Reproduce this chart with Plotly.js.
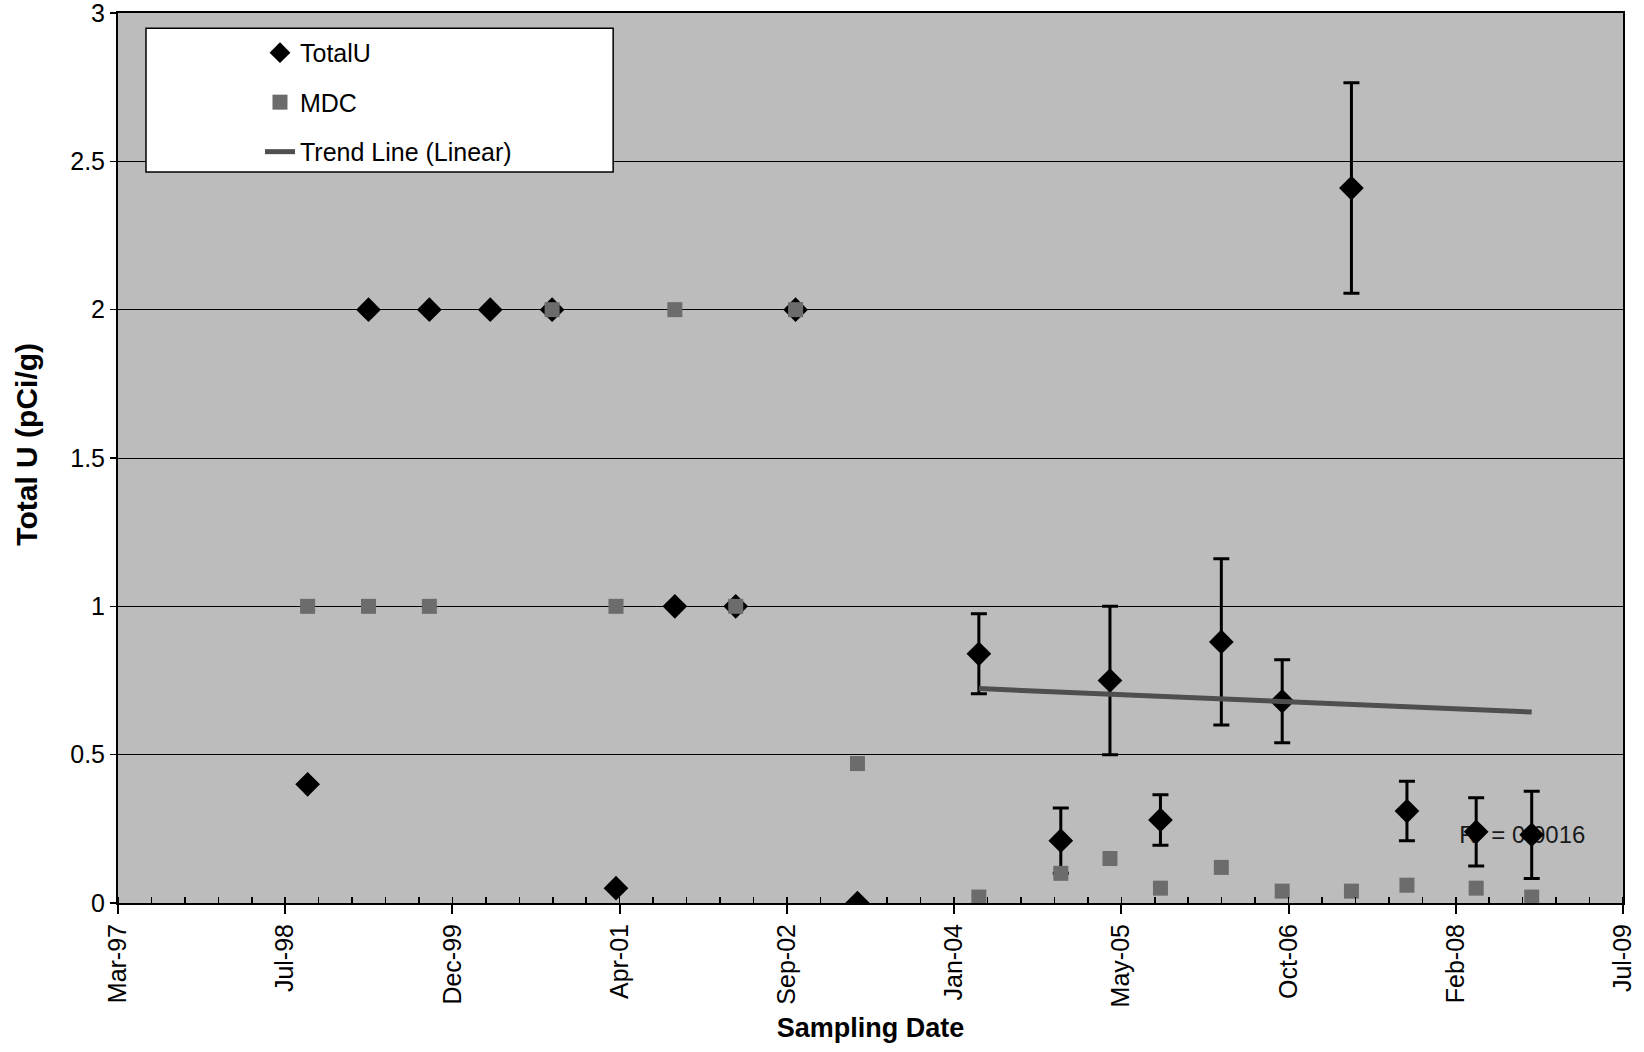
<!DOCTYPE html>
<html>
<head>
<meta charset="utf-8">
<script src="https://cdn.plot.ly/plotly-3.0.1.min.js"></script>
<style>
html, body { margin: 0; padding: 0; background: #ffffff; }
#chart { width: 1644px; height: 1052px; }
</style>
</head>
<body>
<div id="chart"></div>
<script>
// ---- Data ----
var sampleDates = [
  '1998-09-29', '1999-03-30', '1999-09-28', '2000-03-28', '2000-09-29',
  '2001-04-08', '2001-10-01', '2002-04-01', '2002-09-27', '2003-03-31',
  '2004-03-28', '2004-11-28', '2005-04-24', '2005-09-22', '2006-03-23',
  '2006-09-21', '2007-04-16', '2007-09-29', '2008-04-23', '2008-10-06'
];
var totalU = [
  0.40, 2.00, 2.00, 2.00, 2.00,
  0.05, 1.00, 1.00, 2.00, 0.00,
  0.84, 0.21, 0.75, 0.28, 0.88,
  0.68, 2.41, 0.31, 0.24, 0.23
];
var totalUErr = [
  null, null, null, null, null,
  null, null, null, null, null,
  0.135, 0.11, 0.25, 0.085, 0.28,
  0.14, 0.355, 0.10, 0.115, 0.147
];
var mdc = [
  1.00, 1.00, 1.00, null, 2.00,
  1.00, 2.00, 1.00, 2.00, 0.47,
  0.02, 0.10, 0.15, 0.05, 0.12,
  0.04, 0.04, 0.06, 0.05, 0.02
];
var tickDates = ['1997-03-11', '1998-07-24', '1999-12-06', '2001-04-19', '2002-09-01',
                 '2004-01-14', '2005-05-28', '2006-10-10', '2008-02-22', '2009-07-06'];
var tickLabels = ['Mar-97', 'Jul-98', 'Dec-99', 'Apr-01', 'Sep-02',
                  'Jan-04', 'May-05', 'Oct-06', 'Feb-08', 'Jul-09'];
var seriesNames = ['TotalU', 'MDC', 'Trend Line (Linear)'];
var r2Label = 'R² = 0.0016';
var yTitle = 'Total U (pCi/g)';
var xTitle = 'Sampling Date';

// ---- Linear trend fitted to the measurements with uncertainties ----
var DAY = 86400000;
var fitX = [], fitY = [], fitD = [];
for (var i = 0; i < sampleDates.length; i++) {
  if (totalUErr[i] !== null) {
    fitX.push(new Date(sampleDates[i] + 'T00:00:00Z').getTime() / DAY);
    fitY.push(totalU[i]);
    fitD.push(sampleDates[i]);
  }
}
var n = fitX.length, mx = 0, my = 0;
for (i = 0; i < n; i++) { mx += fitX[i]; my += fitY[i]; }
mx /= n; my /= n;
var sxy = 0, sxx = 0;
for (i = 0; i < n; i++) { sxy += (fitX[i] - mx) * (fitY[i] - my); sxx += (fitX[i] - mx) * (fitX[i] - mx); }
var slope = sxy / sxx;
var trendDates = [fitD[0], fitD[n - 1]];
var trendValues = [my + slope * (fitX[0] - mx), my + slope * (fitX[n - 1] - mx)];

var FONT = 'Liberation Sans, Arial, sans-serif';

var traces = [
  {
    x: ['2008-09-08'], y: [0.223],
    mode: 'text', text: [r2Label], textposition: 'middle center',
    textfont: { family: FONT, size: 24, color: '#1a1a1a' },
    showlegend: false, hoverinfo: 'skip'
  },
  {
    name: seriesNames[0], legendgroup: 'a',
    x: sampleDates, y: totalU,
    mode: 'markers', type: 'scatter',
    marker: { symbol: 'diamond', size: 19, color: '#000000', line: { width: 0 } },
    error_y: { type: 'data', array: totalUErr, visible: true, color: '#000000', thickness: 3, width: 8 },
    hoverinfo: 'skip'
  },
  {
    name: seriesNames[1], legendgroup: 'b',
    x: sampleDates, y: mdc,
    mode: 'markers', type: 'scatter',
    marker: { symbol: 'square', size: 15, color: '#6c6c6c', line: { width: 0 } },
    hoverinfo: 'skip'
  },
  {
    name: seriesNames[2], legendgroup: 'c',
    x: trendDates, y: trendValues,
    mode: 'lines', type: 'scatter',
    line: { color: '#4f4f4f', width: 5 },
    hoverinfo: 'skip'
  }
];

var layout = {
  width: 1644, height: 1052,
  paper_bgcolor: '#ffffff',
  plot_bgcolor: '#bcbcbc',
  margin: { l: 118, r: 21, t: 13, b: 149, autoexpand: false },
  font: { family: FONT, size: 25, color: '#000000' },
  showlegend: true,
  legend: {
    x: 0.0186, y: 0.981, xanchor: 'left', yanchor: 'top',
    bgcolor: 'rgba(0,0,0,0)', borderwidth: 0,
    font: { family: FONT, size: 25, color: '#000000' },
    indentation: 114,
    tracegroupgap: 14,
    itemsizing: 'trace'
  },
  xaxis: {
    type: 'date',
    range: [tickDates[0], tickDates[tickDates.length - 1]],
    tickmode: 'array', tickvals: tickDates, ticktext: tickLabels,
    tickangle: -90,
    ticks: 'outside', ticklen: 9, tickwidth: 2, tickcolor: '#000000',
    tickfont: { family: FONT, size: 25, color: '#000000' },
    ticklabeloverflow: 'allow',
    showgrid: false, zeroline: false,
    showline: true, linecolor: '#000000', linewidth: 2, mirror: true,
    minor: { tickmode: 'linear', tick0: tickDates[0], dtick: 100 * DAY,
             ticks: 'inside', ticklen: 6, tickwidth: 1.5, tickcolor: '#000000', showgrid: false },
    title: { text: xTitle, font: { family: FONT, size: 27, color: '#000000', weight: 'bold' }, standoff: 12 },
    automargin: false, fixedrange: true
  },
  yaxis: {
    range: [0, 3], dtick: 0.5, tick0: 0,
    ticks: 'outside', ticklen: 6, tickwidth: 1.5, tickcolor: '#000000',
    tickfont: { family: FONT, size: 25, color: '#000000' },
    ticklabeloverflow: 'allow',
    showgrid: true, gridcolor: '#000000', gridwidth: 1,
    zeroline: false,
    showline: true, linecolor: '#000000', linewidth: 2, mirror: true,
    automargin: false, fixedrange: true
  },
  annotations: [
    { text: yTitle, xref: 'paper', yref: 'paper', x: -0.0605, y: 0.516,
      xanchor: 'center', yanchor: 'middle', textangle: -90, showarrow: false,
      font: { family: FONT, size: 30, color: '#000000', weight: 'bold' } }
  ],
  shapes: [
    { type: 'rect', xref: 'paper', yref: 'paper', x0: 0.0186, x1: 0.329, y0: 0.8213, y1: 0.983,
      fillcolor: '#ffffff', line: { color: '#000000', width: 1.5 }, layer: 'above' }
  ]
};

Plotly.newPlot('chart', traces, layout, { staticPlot: true, displayModeBar: false });
</script>
</body>
</html>
